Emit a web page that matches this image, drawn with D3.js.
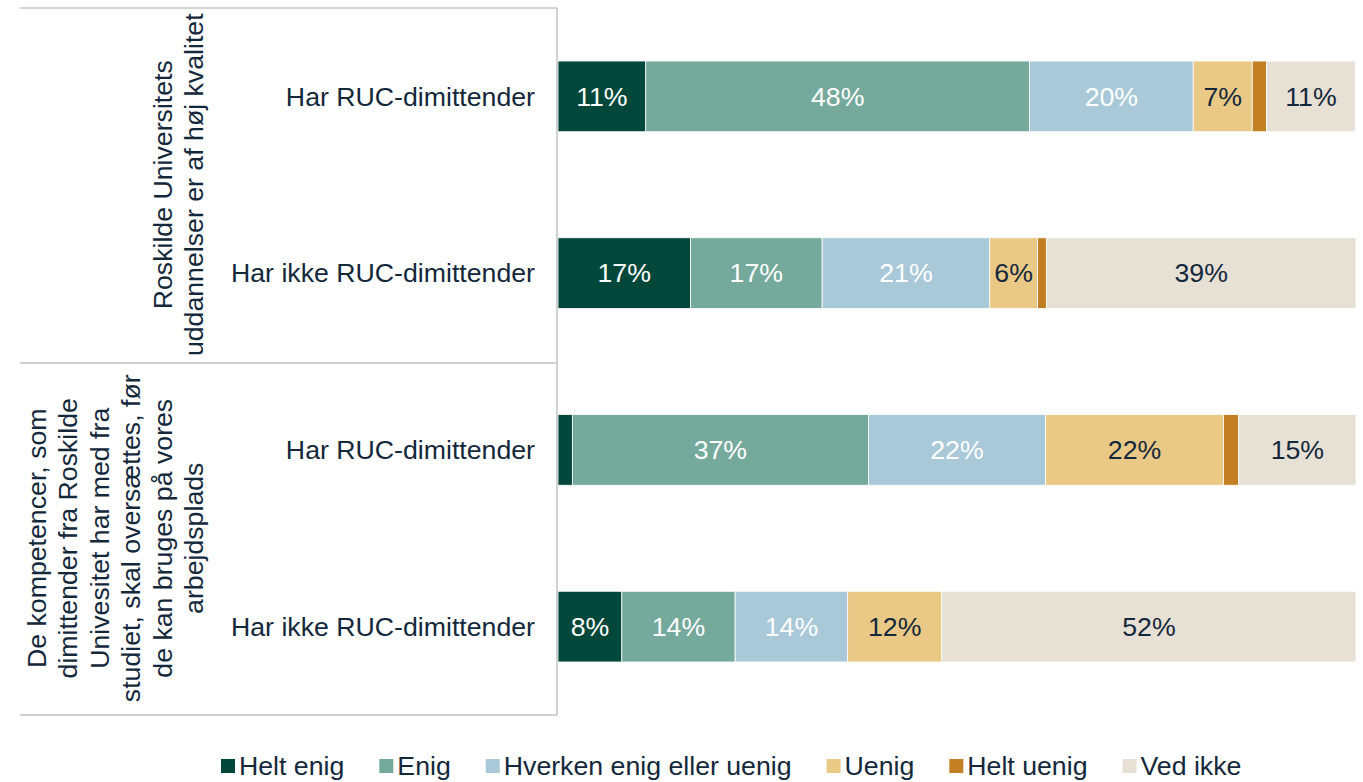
<!DOCTYPE html>
<html>
<head>
<meta charset="utf-8">
<script src="https://cdn.jsdelivr.net/npm/d3@7"></script>
<style>
  body { margin: 0; background: #fff; }
  svg { display: block; font-family: "Liberation Sans", Arial, sans-serif; }
</style>
</head>
<body>
<div id="chart"></div>
<script>
// rows, top to bottom
var rowLabels = ["Har RUC-dimittender", "Har ikke RUC-dimittender", "Har RUC-dimittender", "Har ikke RUC-dimittender"];

// two statements, each covers two rows
var groupLines = [
  ["Roskilde Universitets", "uddannelser er af høj kvalitet"],
  ["De kompetencer, som", "dimittender fra Roskilde", "Univesitet har med fra", "studiet, skal oversættes, før", "de kan bruges på vores", "arbejdsplads"]
];

var seriesNames = ["Helt enig", "Enig", "Hverken enig eller uenig", "Uenig", "Helt uenig", "Ved ikke"];
var seriesColors = ["#01473a", "#74a99b", "#a9c8d8", "#eac886", "#c27f24", "#e7e0d5"];
var labelColors = ["#fff", "#fff", "#fff", "#14283c", "#14283c", "#14283c"];

// percentages
var heltEnig   = [11.0, 16.6, 1.8, 8.0];
var enig       = [48.1, 16.5, 37.1, 14.2];
var hverken    = [20.5, 21.0, 22.2, 14.1];
var uenig      = [7.4, 6.0, 22.3, 11.8];
var heltUenig  = [1.8, 1.1, 1.9, 0];
var vedIkke    = [11.1, 38.8, 14.7, 51.9];

var svgWidth = 1363;
var svgHeight = 782;

var plotLeft = 558, plotRight = 1356;
var plotTop = 8, plotBottom = 715;
var fontSize = "26.7px";

var svg = d3.select("#chart")
  .append("svg")
  .attr("width", svgWidth)
  .attr("height", svgHeight);

// build the table for d3.stack
var seriesValues = [heltEnig, enig, hverken, uenig, heltUenig, vedIkke];
var table = rowLabels.map(function(r, i) {
  var row = { idx: i };
  seriesNames.forEach(function(s, j) { row[s] = seriesValues[j][i]; });
  return row;
});

var stacked = d3.stack().keys(seriesNames)(table);

var xScale = d3.scaleLinear()
  .domain([0, 100])
  .range([plotLeft, plotRight]);

var yScale = d3.scaleBand()
  .domain(d3.range(rowLabels.length))
  .range([plotTop, plotBottom])
  .paddingInner(0.6)
  .paddingOuter(0.3);

// bars
var layers = svg.append("g").selectAll("g")
  .data(stacked)
  .enter()
  .append("g")
  .attr("fill", (d, i) => seriesColors[i]);

layers.selectAll("rect")
  .data(d => d)
  .enter()
  .append("rect")
  .attr("x", d => xScale(d[0]))
  .attr("y", d => yScale(d.data.idx))
  .attr("width", d => Math.max(0, xScale(d[1]) - xScale(d[0])))
  .attr("height", yScale.bandwidth())
  .attr("stroke", "#fff")
  .attr("stroke-width", 0.8);

// value labels
layers.each(function(layer, i) {
  d3.select(this).selectAll("text")
    .data(layer.filter(d => d[1] - d[0] >= 3))
    .enter()
    .append("text")
    .attr("x", d => (xScale(d[0]) + xScale(d[1])) / 2)
    .attr("y", d => yScale(d.data.idx) + yScale.bandwidth() / 2)
    .attr("dy", "0.35em")
    .attr("text-anchor", "middle")
    .attr("font-size", fontSize)
    .attr("fill", labelColors[i])
    .text(d => Math.round(d[1] - d[0]) + "%");
});

// category axis: lines
var rowTop = i => plotTop + i * (plotBottom - plotTop) / rowLabels.length;
var axisG = svg.append("g")
  .attr("stroke", "#c3c3c3")
  .attr("stroke-width", 1.5);

axisG.append("line")
  .attr("x1", plotLeft - 1).attr("x2", plotLeft - 1)
  .attr("y1", plotTop).attr("y2", plotBottom);

[0, 2, 4].forEach(function(i) {
  var y = i === 4 ? plotBottom : rowTop(i);
  if (i === 2) y += 1.5;
  axisG.append("line")
    .attr("x1", 20).attr("x2", plotLeft - 1)
    .attr("y1", y).attr("y2", y);
});

// row labels
svg.append("g").selectAll("text")
  .data(rowLabels)
  .enter()
  .append("text")
  .attr("x", 535)
  .attr("y", (d, i) => yScale(i) + yScale.bandwidth() / 2)
  .attr("dy", "0.35em")
  .attr("text-anchor", "end")
  .attr("font-size", fontSize)
  .attr("fill", "#14283c")
  .text(d => d);

// group labels, rotated
var lineH = 31.5;
groupLines.forEach(function(lines, g) {
  var yc = (rowTop(g * 2) + (g === 1 ? plotBottom : rowTop(g * 2 + 2))) / 2;
  var t = svg.append("text")
    .attr("transform", `translate(0, ${yc}) rotate(-90)`)
    .attr("text-anchor", "middle")
    .attr("font-size", fontSize)
    .attr("fill", "#14283c");
  lines.forEach(function(l, k) {
    t.append("tspan")
      .attr("x", 0)
      .attr("y", 203 - (lines.length - 1 - k) * lineH)
      .text(l);
  });
});

// legend (nudged up a little so descenders stay inside the frame)
var legend = svg.append("g").attr("transform", "translate(221, 766)");
var lx = 0;
seriesNames.forEach(function(name, i) {
  var item = legend.append("g").attr("transform", `translate(${lx}, 0)`);
  item.append("rect")
    .attr("x", 0).attr("y", -7)
    .attr("width", 14).attr("height", 14)
    .attr("fill", seriesColors[i]);
  var txt = item.append("text")
    .attr("x", 18)
    .attr("dy", "0.35em")
    .attr("font-size", fontSize)
    .attr("fill", "#14283c")
    .text(name);
  lx += 18 + txt.node().getComputedTextLength() + 35;
});
</script>
</body>
</html>
